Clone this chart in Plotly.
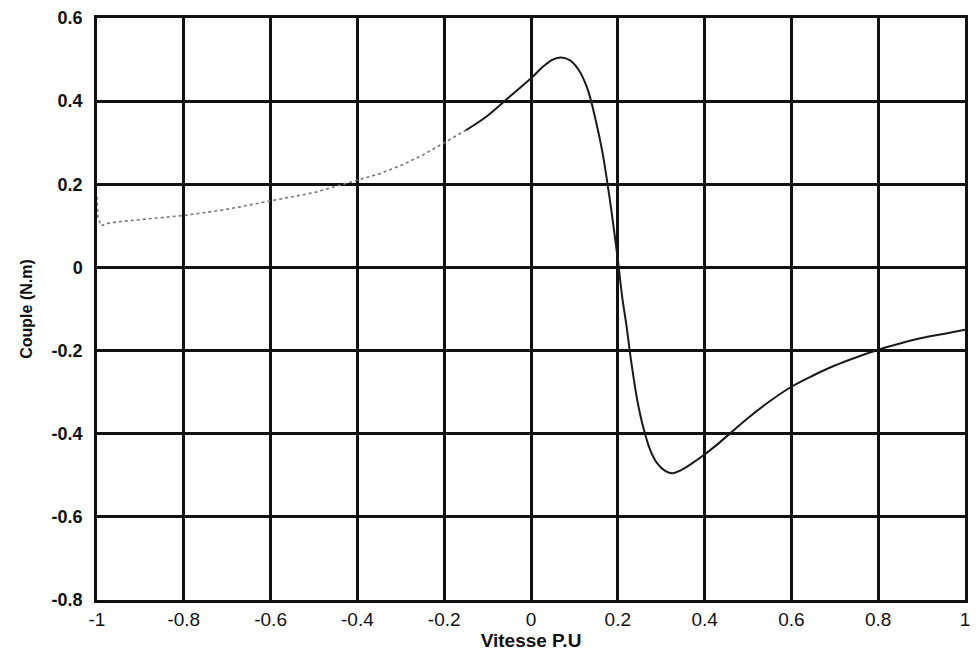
import plotly.graph_objects as go

# Faint (scanned, broken) part of the curve
speed_faint = [-1.0, -0.998, -0.99, -0.98, -0.95, -0.9, -0.85, -0.8, -0.75, -0.7, -0.65,
               -0.6, -0.55, -0.5, -0.45, -0.4, -0.35, -0.3, -0.25, -0.2, -0.15]
torque_faint = [0.17, 0.12, 0.10, 0.105, 0.11, 0.115, 0.12, 0.125, 0.132, 0.14, 0.15,
                0.16, 0.17, 0.18, 0.195, 0.21, 0.225, 0.245, 0.27, 0.30, 0.33]

# Solid part of the curve
speed = [-0.15, -0.1, -0.05, 0.0, 0.03, 0.05, 0.07, 0.09, 0.11, 0.13, 0.15, 0.165, 0.18,
         0.19, 0.2, 0.21, 0.22, 0.23, 0.245, 0.26, 0.275, 0.29, 0.31, 0.327, 0.345, 0.37,
         0.4, 0.43, 0.46, 0.5, 0.55, 0.6, 0.65, 0.7, 0.75, 0.8, 0.85, 0.9, 0.95, 1.0]
torque = [0.33, 0.365, 0.41, 0.455, 0.485, 0.50, 0.505, 0.498, 0.475, 0.43, 0.35, 0.275, 0.175,
          0.10, 0.02, -0.07, -0.14, -0.22, -0.32, -0.39, -0.44, -0.47, -0.49, -0.495, -0.488,
          -0.472, -0.45, -0.425, -0.398, -0.362, -0.322, -0.287, -0.26, -0.236, -0.216, -0.198,
          -0.183, -0.17, -0.16, -0.15]

x_ticks = [-1, -0.8, -0.6, -0.4, -0.2, 0, 0.2, 0.4, 0.6, 0.8, 1]
x_ticktext = ["-1", "-0.8", "-0.6", "-0.4", "-0.2", "0", "0.2", "0.4", "0.6", "0.8", "1"]
y_ticks = [-0.8, -0.6, -0.4, -0.2, 0, 0.2, 0.4, 0.6]
y_ticktext = ["-0.8", "-0.6", "-0.4", "-0.2", "0", "0.2", "0.4", "0.6"]

FONT = "Liberation Sans, Arial"

fig = go.Figure()
fig.add_trace(go.Scatter(x=speed_faint, y=torque_faint, mode="lines",
                         line=dict(color="#777777", width=1.6, dash="dot"),
                         showlegend=False, hoverinfo="skip"))
fig.add_trace(go.Scatter(x=speed, y=torque, mode="lines", line_shape="spline",
                         line=dict(color="#1a1a1a", width=2),
                         showlegend=False))

axis_common = dict(showgrid=True, gridcolor="#111111", gridwidth=2.5,
                   showline=True, linecolor="#111111", linewidth=2.5, mirror=True,
                   zeroline=False, ticks="")

fig.update_xaxes(range=[-1, 1], tickvals=x_ticks, ticktext=x_ticktext,
                 tickfont=dict(family=FONT, size=19, color="#111111"),
                 ticklabelstandoff=0,
                 title=dict(text="Vitesse P.U", font=dict(family=FONT, size=19,
                                                          color="#111111", weight="bold"),
                            standoff=0),
                 **axis_common)
fig.update_yaxes(range=[-0.8, 0.6], tickvals=y_ticks, ticktext=y_ticktext,
                 tickfont=dict(family=FONT, size=18, color="#111111", weight="bold"),
                 ticklabelstandoff=8,
                 title=dict(text="Couple (N.m)", font=dict(family=FONT, size=16,
                                                           color="#111111", weight="bold"),
                            standoff=16),
                 **axis_common)

fig.update_layout(width=978, height=656, margin=dict(l=97, r=8, t=15, b=56),
                  plot_bgcolor="white", paper_bgcolor="white")

fig.write_html("out.html")
